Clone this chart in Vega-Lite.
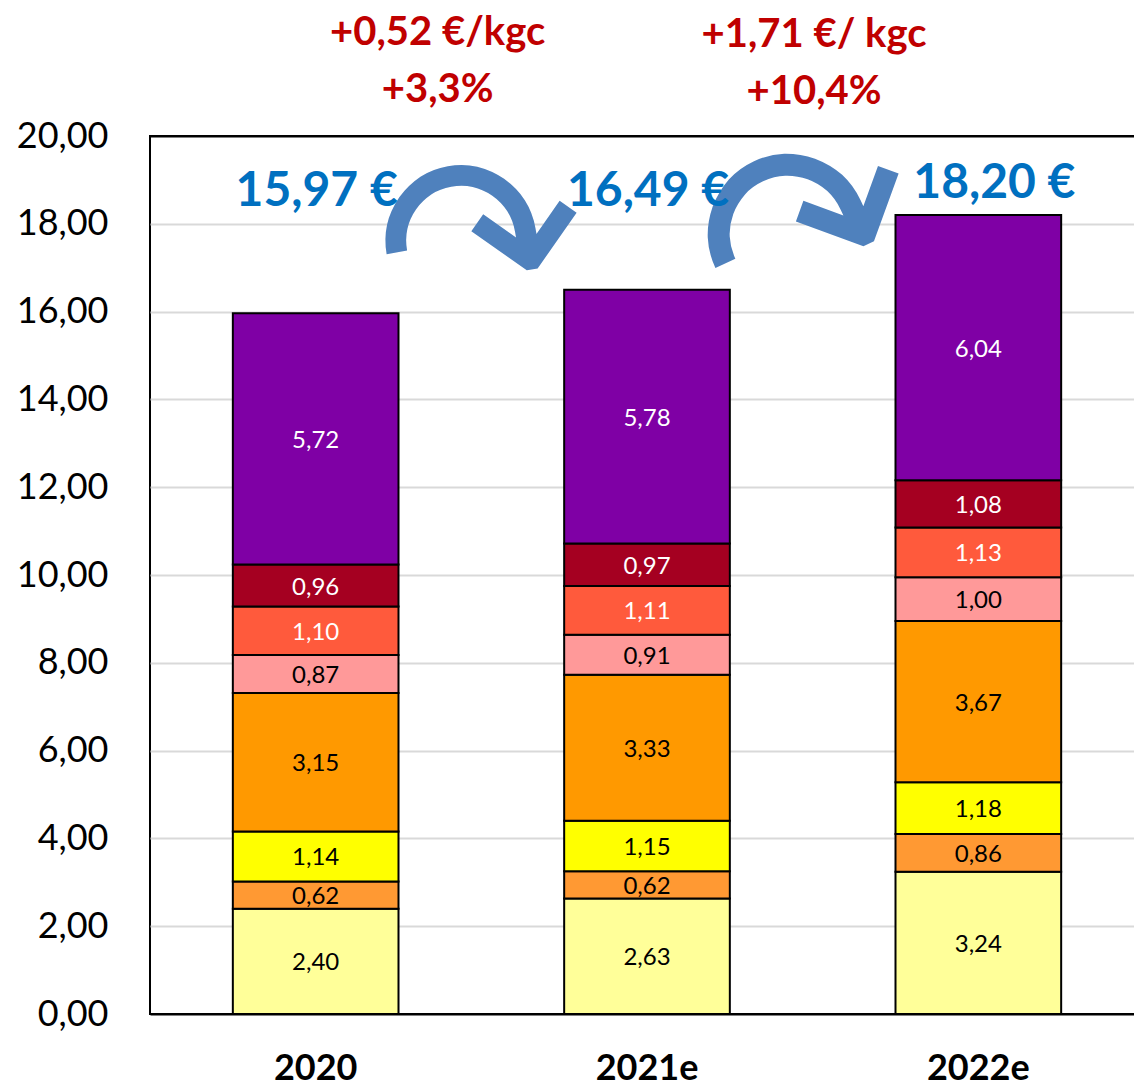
{
  "$schema": "https://vega.github.io/schema/vega-lite/v6.json",
  "width": 994,
  "height": 878,
  "autosize": "none",
  "padding": {"left": 150, "top": 136, "right": 0, "bottom": 70},
  "background": "white",
  "config": {
    "locale": {"number": {"decimal": ",", "thousands": " ", "grouping": [3], "currency": ["", " €"]}},
    "view": {"stroke": "black", "strokeWidth": 2},
    "font": "Lato"
  },
  "datasets": {
    "segments": [
      {"year": "2020", "k": 1, "seg": "c1", "value": 2.40},
      {"year": "2020", "k": 2, "seg": "c2", "value": 0.62},
      {"year": "2020", "k": 3, "seg": "c3", "value": 1.14},
      {"year": "2020", "k": 4, "seg": "c4", "value": 3.15},
      {"year": "2020", "k": 5, "seg": "c5", "value": 0.87},
      {"year": "2020", "k": 6, "seg": "c6", "value": 1.10},
      {"year": "2020", "k": 7, "seg": "c7", "value": 0.96},
      {"year": "2020", "k": 8, "seg": "c8", "value": 5.72},
      {"year": "2021e", "k": 1, "seg": "c1", "value": 2.63},
      {"year": "2021e", "k": 2, "seg": "c2", "value": 0.62},
      {"year": "2021e", "k": 3, "seg": "c3", "value": 1.15},
      {"year": "2021e", "k": 4, "seg": "c4", "value": 3.33},
      {"year": "2021e", "k": 5, "seg": "c5", "value": 0.91},
      {"year": "2021e", "k": 6, "seg": "c6", "value": 1.11},
      {"year": "2021e", "k": 7, "seg": "c7", "value": 0.97},
      {"year": "2021e", "k": 8, "seg": "c8", "value": 5.78},
      {"year": "2022e", "k": 1, "seg": "c1", "value": 3.24},
      {"year": "2022e", "k": 2, "seg": "c2", "value": 0.86},
      {"year": "2022e", "k": 3, "seg": "c3", "value": 1.18},
      {"year": "2022e", "k": 4, "seg": "c4", "value": 3.67},
      {"year": "2022e", "k": 5, "seg": "c5", "value": 1.00},
      {"year": "2022e", "k": 6, "seg": "c6", "value": 1.13},
      {"year": "2022e", "k": 7, "seg": "c7", "value": 1.08},
      {"year": "2022e", "k": 8, "seg": "c8", "value": 6.04}
    ],
    "totals": [
      {"year": "2020", "label": "15,97 €"},
      {"year": "2021e", "label": "16,49 €"},
      {"year": "2022e", "label": "18,20 €"}
    ],
    "change1": [{"from": "2020", "to": "2021e", "lines": ["+0,52 €/kgc", "+3,3%"]}],
    "change2": [{"from": "2021e", "to": "2022e", "lines": ["+1,71 €/ kgc", "+10,4%"]}]
  },
  "encoding": {
    "x": {
      "field": "year", "type": "nominal",
      "scale": {"domain": ["2020", "2021e", "2022e"], "paddingInner": 0.5, "paddingOuter": 0.25},
      "axis": {"title": null, "domain": false, "ticks": false, "labelAngle": 0, "labelFontSize": 36, "labelFontWeight": "bold", "labelColor": "black", "labelPadding": 37, "labelFont": "Lato"}
    }
  },
  "layer": [
    {
      "data": {"name": "segments"},
      "transform": [
        {"stack": "value", "groupby": ["year"], "sort": [{"field": "k", "order": "ascending"}], "as": ["y0", "y1"]}
      ],
      "mark": {"type": "bar", "stroke": "black", "strokeWidth": 2},
      "encoding": {
        "y": {
          "field": "y0", "type": "quantitative",
          "scale": {"domain": [0, 20]},
          "axis": {"title": null, "values": [0, 2, 4, 6, 8, 10, 12, 14, 16, 18, 20], "format": ".2f", "domain": false, "ticks": false, "grid": true,
                   "gridColor": {"condition": {"test": "datum.value == 20 || datum.value == 0", "value": "black"}, "value": "#D9D9D9"},
                   "gridWidth": 2, "labelFontSize": 36, "labelColor": "black", "labelPadding": 42, "labelFont": "Lato"}
        },
        "y2": {"field": "y1"},
        "color": {
          "field": "seg", "type": "nominal", "legend": null,
          "scale": {"domain": ["c1", "c2", "c3", "c4", "c5", "c6", "c7", "c8"],
                    "range": ["#FFFF99", "#FF9933", "#FFFF00", "#FF9900", "#FF9999", "#FF5A3C", "#A50021", "#7F00A5"]}
        }
      }
    },
    {
      "data": {"name": "segments"},
      "transform": [
        {"stack": "value", "groupby": ["year"], "sort": [{"field": "k", "order": "ascending"}], "as": ["y0", "y1"]},
        {"calculate": "(datum.y0 + datum.y1) / 2", "as": "mid"}
      ],
      "mark": {"type": "text", "fontSize": 24, "font": "Lato", "baseline": "middle", "dy": 2},
      "encoding": {
        "y": {"field": "mid", "type": "quantitative"},
        "text": {"field": "value", "type": "quantitative", "format": ".2f"},
        "color": {"condition": {"test": "datum.k >= 6", "value": "white"}, "value": "black"}
      }
    },
    {
      "data": {"name": "change1"},
      "mark": {"type": "text", "text": "↷", "fontSize": 250, "font": "DejaVu Sans", "color": "#4F81BD", "baseline": "middle", "dx": 170, "angle": -10},
      "encoding": {
        "x": {"field": "from", "type": "nominal"},
        "y": {"datum": 16.65, "type": "quantitative"}
      }
    },
    {
      "data": {"name": "change2"},
      "mark": {"type": "text", "text": "↷", "fontSize": 265, "font": "DejaVu Sans", "color": "#4F81BD", "baseline": "middle", "dx": 184, "angle": -25},
      "encoding": {
        "x": {"field": "from", "type": "nominal"},
        "y": {"datum": 15.85, "type": "quantitative"}
      }
    },
    {
      "data": {"name": "totals"},
      "transform": [{"filter": "datum.year != '2022e'"}],
      "mark": {"type": "text", "fontSize": 48, "fontWeight": "bold", "font": "Lato", "color": "#0070C0", "baseline": "middle", "dx": 1},
      "encoding": {
        "y": {"datum": 18.72, "type": "quantitative"},
        "text": {"field": "label", "type": "nominal"}
      }
    },
    {
      "data": {"name": "totals"},
      "transform": [{"filter": "datum.year == '2022e'"}],
      "mark": {"type": "text", "fontSize": 48, "fontWeight": "bold", "font": "Lato", "color": "#0070C0", "baseline": "middle", "dx": 16},
      "encoding": {
        "y": {"datum": 18.9, "type": "quantitative"},
        "text": {"field": "label", "type": "nominal"}
      }
    },
    {
      "data": {"name": "change1"},
      "mark": {"type": "text", "fontSize": 40, "fontWeight": "bold", "font": "Lato", "color": "#C00000", "baseline": "middle", "lineHeight": 57, "dx": 122},
      "encoding": {
        "x": {"field": "from", "type": "nominal"},
        "y": {"datum": 22.35, "type": "quantitative"},
        "text": {"field": "lines"}
      }
    },
    {
      "data": {"name": "change2"},
      "mark": {"type": "text", "fontSize": 40, "fontWeight": "bold", "font": "Lato", "color": "#C00000", "baseline": "middle", "lineHeight": 57, "dx": 167},
      "encoding": {
        "x": {"field": "from", "type": "nominal"},
        "y": {"datum": 22.3, "type": "quantitative"},
        "text": {"field": "lines"}
      }
    }
  ]
}
